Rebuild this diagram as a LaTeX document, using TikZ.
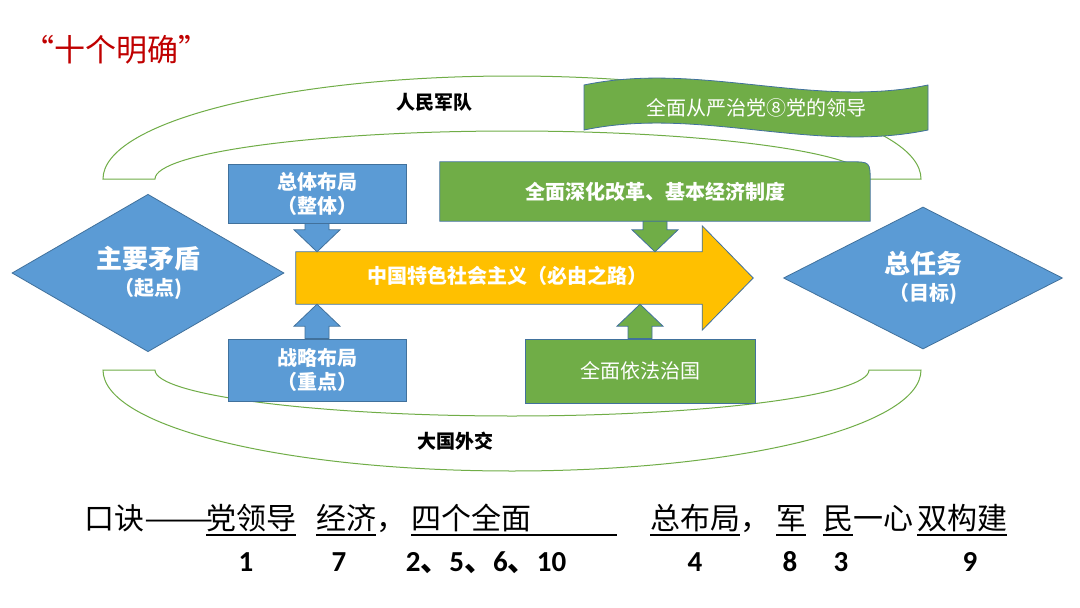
\documentclass[tikz,border=0pt]{standalone}
\usepackage{graphicx}
\usepackage{fontspec}
\setmainfont{Liberation Serif}
\newfontfamily\cjk{Noto Sans CJK SC}
\newfontfamily\digits{Carlito}
\usetikzlibrary{shapes.geometric, calc}

\definecolor{boxblue}{HTML}{5B9BD5}
\definecolor{edgeblue}{HTML}{41719C}
\definecolor{boxgreen}{HTML}{70AD47}
\definecolor{roadyellow}{HTML}{FFC000}
\definecolor{titlered}{HTML}{C00000}

\newcommand{\dun}{{\cjk\bfseries 、}}
% vertical block arrow: fill, from, to, 1 = down / -1 = up
\newcommand{\blockarrow}[4]{%
  \filldraw[fill=#1, shapeline] let \p1=(#2), \p2=(#3), \n1={#4*22pt} in
    (\x1-12pt,\y1) -- (\x1+12pt,\y1) -- (\x1+12pt,\y2+\n1)
    -- (\x1+23pt,\y2+\n1) -- (\x1,\y2) -- (\x1-23pt,\y2+\n1)
    -- (\x1-12pt,\y2+\n1) -- cycle;}

\tikzset{
  shapeline/.style={draw=edgeblue, line width=0.8pt},
  layoutbox/.style={shapeline, fill=boxblue, text=white, align=center, inner sep=0pt,
    font=\cjk\bfseries\fontsize{20}{24}\selectfont},
  taskbox/.style={shapeline, fill=boxgreen, text=white, align=center, inner sep=0pt,
    font=\cjk\fontsize{20}{24}\selectfont},
  goal/.style={diamond, shapeline, fill=boxblue, text=white, align=center, inner sep=0pt,
    font=\cjk\bfseries\fontsize{26}{27}\selectfont},
  boxtext/.style={text=white, inner sep=0pt, font=\cjk\bfseries\fontsize{20}{24}\selectfont},
  arch/.style={draw=boxgreen, line width=1pt},
  archlabel/.style={inner sep=0pt, font=\cjk\bfseries\fontsize{19}{20}\selectfont},
  rhyme/.style={inner sep=0pt, anchor=base west, font=\cjk\fontsize{30}{36}\selectfont},
  rhymenum/.style={inner sep=0pt, anchor=base, font=\digits\bfseries\fontsize{29}{32}\selectfont},
  rhymeline/.style={line width=1.4pt}
}

\begin{document}
\begin{tikzpicture}[x=1pt,y=-1pt]
  \fill[white] (0,0) rectangle (1080,608);
  \useasboundingbox (0,0) rectangle (1080,608);

  \node[anchor=west, inner sep=0pt, text=titlered, font=\cjk\fontsize{31}{36}\selectfont] (title) at (23,50) {“十个明确”};

  % arches
  \draw[arch] (103,179) .. controls (103,122) and (286,76) .. (512,76)
    .. controls (738,76) and (921,122) .. (921,179) -- (869,179)
    .. controls (869,153) and (709,131) .. (512,131)
    .. controls (315,131) and (155,153) .. (155,179) -- cycle;
  \draw[arch] (103,370) .. controls (103,427) and (286,471) .. (512,471)
    .. controls (738,471) and (921,427) .. (921,370) -- (869,370)
    .. controls (869,395) and (709,416) .. (512,416)
    .. controls (315,416) and (155,395) .. (155,370) -- cycle;
  \node[archlabel] (army) at (434,102) {人民军队};
  \node[archlabel] (diplomacy) at (455,441) {大国外交};

  % banner
  \filldraw[fill=boxgreen, shapeline] (584,85) .. controls (699,61) and (813,109) .. (928,85)
    -- (928,130) .. controls (813,154) and (699,106) .. (584,130) -- cycle;
  \node[boxtext, font=\cjk\fontsize{20}{24}\selectfont] (discipline) at (756,108) {全面从严治党⑧党的领导};

  % diamonds
  \node[goal, minimum width=272, minimum height=133] (contradiction) at (148,273)
    {主要矛盾\\{\fontsize{20}{24}\selectfont（起点)}};
  \node[goal, minimum width=279, minimum height=142] (task) at (923,278)
    {总任务\\{\fontsize{20}{24}\selectfont（目标)}};

  % road
  \node[inner sep=0pt, minimum width=406, minimum height=52] (road) at (499,278) {};
  \filldraw[fill=roadyellow, shapeline] (road.south west) -- (road.north west) -- (road.north east)
    -- ($(road.north east)+(0,-26)$) -- ($(road.east)+(51,0)$)
    -- ($(road.south east)+(0,26)$) -- (road.south east) -- cycle;
  \node[boxtext] (roadtext) at ($(road.center)+(8,-2)$) {中国特色社会主义（必由之路）};

  % boxes
  \node[layoutbox, minimum width=178, minimum height=59] (overall) at (317,193.5) {总体布局\\（整体）};
  \node[layoutbox, minimum width=178, minimum height=62] (strategy) at (317,370) {战略布局\\（重点）};
  \node[inner sep=0pt, minimum width=430, minimum height=59] (reform) at (655,191.5) {};
  \filldraw[fill=boxgreen, shapeline] (reform.south west) -- (reform.north west)
    -- ($(reform.north east)+(-20,0)$) .. controls (reform.north east) .. ($(reform.north east)+(0,20)$)
    -- (reform.south east) -- cycle;
  \node[boxtext] (reformtext) at (reform.center) {全面深化改革、基本经济制度};
  \node[taskbox, minimum width=230, minimum height=64] (law) at (640,371) {全面依法治国};

  \blockarrow{boxblue}{overall.south}{road.north}{1}
  \blockarrow{boxblue}{strategy.north}{road.south}{-1}
  \blockarrow{boxgreen}{reform.south}{road.north}{1}
  \blockarrow{boxgreen}{law.north}{road.south}{-1}

  % rhyme
  \node[rhyme] (lead) at (84,529) {口诀\scalebox{1.38}[1]{——}};
  \node[rhyme] (w1) at (206,529) {党领导};
  \node[rhyme] (w2) at (316,529) {经济};
  \node[rhyme] (c1) at (w2.base east) {，};
  \node[rhyme, text width=206] (w3) at (411,529) {四个全面};
  \node[rhyme] (w4) at (650,529) {总布局};
  \node[rhyme] (c2) at (w4.base east) {，};
  \node[rhyme] (w5) at (776,529) {军};
  \node[rhyme] (w6) at (823,529) {民};
  \node[rhyme] (mid) at (w6.base east) {一心};
  \node[rhyme] (w7) at (917,529) {双构建};
  \foreach \w in {w1,w2,w3,w4,w5,w6,w7}
    \draw[rhymeline] ($(\w.base west)+(0,6)$) -- ($(\w.base east)+(0,6)$);

  \node[rhymenum] (n1) at (246,571) {1};
  \node[rhymenum] (n7) at (339,571) {7};
  \node[rhymenum] (n2) at (486,571) {2\dun5\dun6\dun10};
  \node[rhymenum] (n4) at (695,571) {4};
  \node[rhymenum] (n8) at (790,571) {8};
  \node[rhymenum] (n3) at (841,571) {3};
  \node[rhymenum] (n9) at (970,571) {9};
\end{tikzpicture}
\end{document}
